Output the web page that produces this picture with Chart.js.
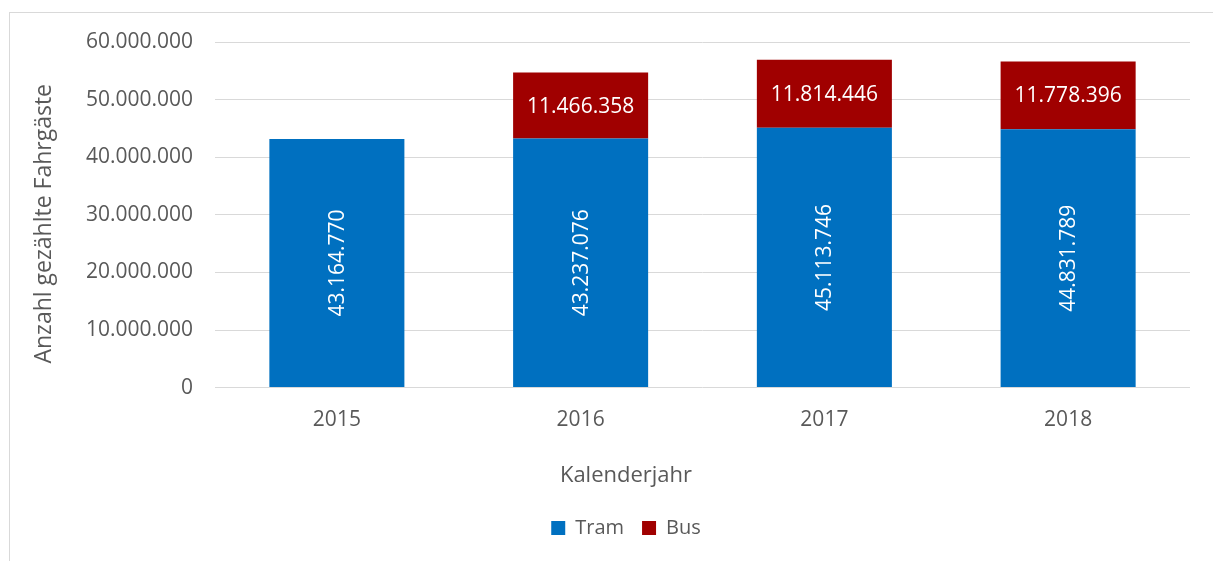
<!DOCTYPE html>
<html>
<head>
<meta charset="utf-8">
<script src="https://cdn.jsdelivr.net/npm/chart.js@4/dist/chart.umd.min.js"></script>
<style>
  body { margin: 0; background: #fff; overflow: hidden; width: 1213px; height: 561px; }
  #frame { position: absolute; left: 9px; top: 12px; width: 1300px; height: 700px; border: 1px solid #d9d9d9; }
  #box { position: absolute; left: 10px; top: 13px; width: 1232px; height: 548px; }
</style>
</head>
<body>
<div id="frame"></div>
<div id="box"><canvas id="myChart"></canvas></div>
<script>
// values
var years = ["2015", "2016", "2017", "2018"]
var tram = [43164770, 43237076, 45113746, 44831789]
var bus = [null, 11466358, 11814446, 11778396]
var yTicks = [0, 10000000, 20000000, 30000000, 40000000, 50000000, 60000000]

var grey = "#595959"
var font = "'Open Sans', sans-serif"

function fmt(v) {
    return String(v).replace(/\B(?=(\d{3})+(?!\d))/g, ".")
}

// white value labels inside the bars
var barLabels = {
    id: "barLabels",
    afterDatasetsDraw: function (chart) {
        var ctx = chart.ctx
        chart.data.datasets.forEach(function (ds, i) {
            var meta = chart.getDatasetMeta(i)
            meta.data.forEach(function (bar, j) {
                var v = ds.data[j]
                if (v == null) return
                var cy = (bar.y + bar.base) / 2
                ctx.save()
                ctx.fillStyle = "#ffffff"
                ctx.font = "21px " + font
                ctx.textAlign = "center"
                ctx.textBaseline = "middle"
                ctx.translate(bar.x, cy)
                if (ds.label == "Tram") ctx.rotate(-Math.PI / 2)
                ctx.fillText(fmt(v), 0, 1)
                ctx.restore()
            })
        })
    }
}

var myChart = document.getElementById("myChart")
new Chart(myChart, {
    type: "bar",
    data: {
        labels: years,
        datasets: [{
            label: "Tram",
            data: tram,
            backgroundColor: "#0070c0",
            categoryPercentage: 1,
            barPercentage: 0.554
        }, {
            label: "Bus",
            data: bus,
            backgroundColor: "#a00000",
            categoryPercentage: 1,
            barPercentage: 0.554
        }]
    },
    options: {
        responsive: true,
        maintainAspectRatio: false,
        animation: false,
        layout: { padding: { top: 29, right: 0, left: 0, bottom: 13 } },
        scales: {
            x: {
                stacked: true,
                grid: { display: false },
                border: { display: false },
                ticks: { color: grey, font: { family: font, size: 21 }, padding: 12 },
                afterFit: function (scale) { scale.height = 62 }
            },
            y: {
                stacked: true,
                min: 0,
                max: 60000000,
                afterBuildTicks: function (scale) {
                    scale.ticks = yTicks.map(function (v) { return { value: v } })
                },
                grid: { color: "#d9d9d9", lineWidth: 1, drawTicks: false },
                border: { display: false },
                ticks: {
                    color: grey,
                    font: { family: font, size: 21 },
                    padding: 22,
                    callback: function (v) { return fmt(v) }
                },
                title: {
                    display: true,
                    // trailing spaces nudge the title a little lower, like the original
                    text: "Anzahl gezählte Fahrgäste\u00a0\u00a0\u00a0",
                    color: grey,
                    font: { family: font, size: 23 },
                    padding: { top: 21, bottom: 0 }
                },
                afterFit: function (scale) {
                    scale.width = 205
                    scale.paddingTop = 10
                    scale.paddingBottom = 10
                }
            },
            // empty space on the right so legend and title stay centred on the frame
            spacer: {
                position: "right",
                grid: { display: false },
                border: { display: false },
                ticks: { display: false },
                afterFit: function (scale) { scale.width = 52 }
            }
        },
        plugins: {
            title: {
                display: true,
                position: "bottom",
                weight: 500,
                text: "Kalenderjahr",
                color: grey,
                font: { family: font, size: 22, weight: "normal" },
                padding: { top: 13, bottom: 11 }
            },
            legend: {
                position: "bottom",
                labels: {
                    color: grey,
                    font: { family: font, size: 20 },
                    boxWidth: 14,
                    boxHeight: 14,
                    padding: 18
                }
            },
            tooltip: { enabled: false }
        }
    },
    plugins: [barLabels]
})
</script>
</body>
</html>
